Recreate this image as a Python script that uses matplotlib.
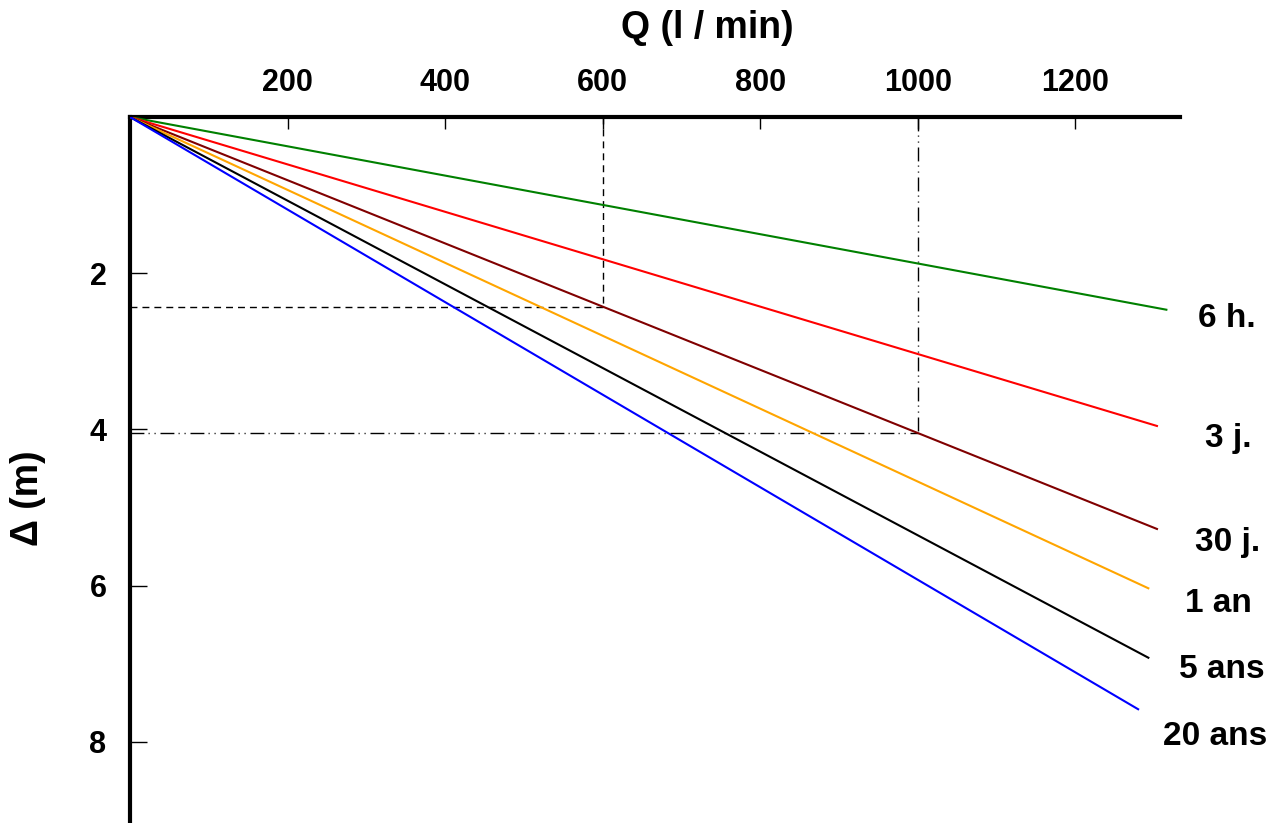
import numpy as np
import matplotlib
matplotlib.use('Agg')
import matplotlib.pyplot as plt

plt.rcParams['font.family'] = ['Liberation Sans', 'DejaVu Sans']
plt.rcParams['font.weight'] = 'bold'

# durees de pompage et rabattement en fin de droite
durees = ['6 h.', '3 j.', '30 j.', '1 an', '5 ans', '20 ans']
couleurs = ['#008000', '#ff0000', '#800000', '#ffa500', '#000000', '#0000ff']
q_fin = [1317, 1305, 1305, 1294, 1294, 1281]
delta_fin = [2.47, 3.96, 5.28, 6.04, 6.93, 7.59]

# debits de lecture sur la droite 30 j.
q_lecture = [600, 1000]

x_ticks = [200, 400, 600, 800, 1000, 1200]
y_ticks = [2, 4, 6, 8]

fig = plt.figure(figsize=(12.85, 8.23), dpi=100)
ax = fig.add_axes([130 / 1285, 0.0, 1050 / 1285, 706 / 823])

for nom, c, qf, df in zip(durees, couleurs, q_fin, delta_fin):
    ax.plot([0, qf], [0, df], color=c, lw=1.5, solid_capstyle='butt', zorder=3)

# lectures sur la droite 30 j.
d_lecture = np.interp(q_lecture, [0, q_fin[2]], [0, delta_fin[2]])
tiret = (0, (5, 3.6))
tiret_pt = (0, (10, 3, 0.8, 3.5, 0.8, 3.5))
ax.plot([q_lecture[0], q_lecture[0]], [0, d_lecture[0]], color='black', lw=1, linestyle=tiret, zorder=2)
ax.plot([0, q_lecture[0]], [d_lecture[0], d_lecture[0]], color='black', lw=1, linestyle=tiret, zorder=2)
ax.plot([q_lecture[1], q_lecture[1]], [0, d_lecture[1]], color='black', lw=1, linestyle=tiret_pt, zorder=2)
ax.plot([0, q_lecture[1]], [d_lecture[1], d_lecture[1]], color='black', lw=1, linestyle=tiret_pt, zorder=2)

# etiquettes des durees (placement a la main)
label_xy = [(1393, 2.69), (1394, 4.22), (1393, 5.56), (1382, 6.34), (1386, 7.18), (1378, 8.04)]
for nom, (lx, ly) in zip(durees, label_xy):
    ax.text(lx, ly, nom, fontsize=24, fontweight='bold', ha='center', va='baseline',
            clip_on=False)

ax.set_xlim(0, 1333)
ax.set_ylim(9.04, 0)

ax.xaxis.tick_top()
ax.set_xticks(x_ticks)
ax.set_yticks(y_ticks)
ax.tick_params(axis='x', direction='in', length=8.5, width=1, pad=14, labelsize=22)
ax.tick_params(axis='y', direction='in', length=12, width=1, pad=17, labelsize=22)
for lab in ax.get_xticklabels() + ax.get_yticklabels():
    lab.set_fontweight('bold')

for s in ['right', 'bottom']:
    ax.spines[s].set_visible(False)
for s in ['left', 'top']:
    ax.spines[s].set_linewidth(3)
    ax.spines[s].set_capstyle('projecting')

ax.set_xlabel('Q (l / min)', fontsize=27, fontweight='bold')
ax.xaxis.set_label_position('top')
ax.xaxis.label.set_va('center')
ax.xaxis.set_label_coords((707 - 130) / 1050, 1 + (117 - 28) / 706)

ax.set_ylabel('Δ (m)', fontsize=27, fontweight='bold')
ax.yaxis.label.set_va('center')
ax.yaxis.set_label_coords((28 - 130) / 1050, 1 - (498 - 117) / 706)

fig.savefig('out.png', dpi=100)
